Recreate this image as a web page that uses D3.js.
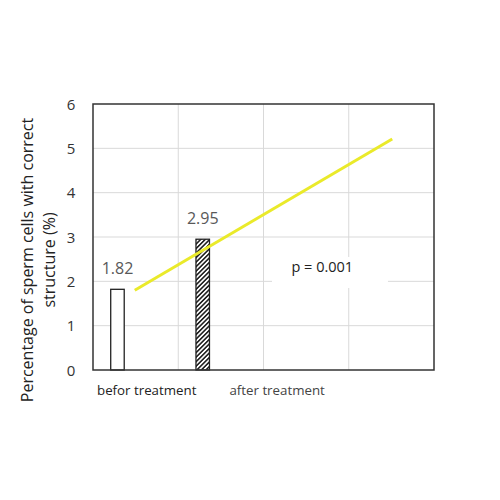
<!DOCTYPE html>
<html><head><meta charset="utf-8">
<script src="https://cdn.jsdelivr.net/npm/d3@7"></script>
<style>body{margin:0;background:#fff}svg{display:block}</style>
</head><body>
<script>
const categories = ["befor treatment", "after treatment"];
const values = [1.82, 2.95];
const barPos = [0.287, 1.287];
const labelPos = [0.63, 2.16];
const trendX = [0.49, 3.51];
const trendY = [1.80, 5.21];
const yTicks = [0, 1, 2, 3, 4, 5, 6];
const xGrid = [0, 1, 2, 3, 4];
const pText = "p = 0.001";

const W = 500, H = 500;
const svg = d3.select("body").append("svg").attr("width", W).attr("height", H);
const m = {l: 93, r: 434, t: 104, b: 370};
const x = d3.scaleLinear().domain([0, 4]).range([m.l, m.r]);
const y = d3.scaleLinear().domain([0, 6]).range([m.b, m.t]);
const font = "'Open Sans', sans-serif";

const defs = svg.append("defs");
const pat = defs.append("pattern").attr("id", "hatch").attr("patternUnits", "userSpaceOnUse")
  .attr("width", 3.2).attr("height", 3.2).attr("patternTransform", "rotate(45)");
pat.append("rect").attr("width", 3.2).attr("height", 3.2).attr("fill", "#fff");
pat.append("rect").attr("width", 1.6).attr("height", 3.2).attr("fill", "#222");

// grid
svg.append("g").selectAll("line").data(yTicks.slice(1, -1)).join("line")
  .attr("x1", m.l).attr("x2", m.r).attr("y1", d => y(d)).attr("y2", d => y(d))
  .attr("stroke", "#d9d9d9").attr("stroke-width", 1);
svg.append("g").selectAll("line").data(xGrid.slice(1, -1)).join("line")
  .attr("y1", m.t).attr("y2", m.b).attr("x1", d => x(d)).attr("x2", d => x(d))
  .attr("stroke", "#d9d9d9").attr("stroke-width", 1);

// bars
const bw = 13.5;
svg.append("g").selectAll("rect").data(values).join("rect")
  .attr("x", (d, i) => x(barPos[i]) - bw / 2).attr("width", bw)
  .attr("y", d => y(d)).attr("height", d => y(0) - y(d))
  .attr("fill", (d, i) => i === 0 ? "#fff" : "url(#hatch)")
  .attr("stroke", "#222").attr("stroke-width", 1.3);

// data labels
svg.append("g").selectAll("text").data(values).join("text")
  .attr("x", (d, i) => x(barPos[i])).attr("y", d => y(d) - 15)
  .attr("text-anchor", "middle").attr("font-family", font).attr("font-size", 16)
  .attr("fill", "#595959").text(d => d.toFixed(2));

// trend line
svg.append("line")
  .attr("x1", x(trendX[0])).attr("y1", y(trendY[0]))
  .attr("x2", x(trendX[1])).attr("y2", y(trendY[1]))
  .attr("stroke", "#eaea2a").attr("stroke-width", 3);

// p text box
const pg = svg.append("g");
pg.append("rect").attr("x", x(2.1)).attr("y", y(2.55)).attr("width", x(3.46) - x(2.1)).attr("height", y(1.85) - y(2.55)).attr("fill", "#fff");
pg.append("text").attr("x", x(2.69)).attr("y", y(2.2)).attr("text-anchor", "middle")
  .attr("font-family", font).attr("font-size", 14.5).attr("fill", "#222").text(pText);

// border
svg.append("rect").attr("x", m.l).attr("y", m.t).attr("width", m.r - m.l).attr("height", m.b - m.t)
  .attr("fill", "none").attr("stroke", "#333").attr("stroke-width", 1.5);

// y axis labels
const yAxis = d3.axisLeft(y).tickValues(yTicks).tickSize(0).tickPadding(0).tickFormat(d3.format("d"));
const ga = svg.append("g").attr("transform", `translate(${m.l - 22},0)`).call(yAxis);
ga.select(".domain").remove();
ga.selectAll("text").attr("font-family", font).attr("font-size", 15).attr("fill", "#333")
  .attr("text-anchor", "middle").attr("dy", "0.35em");

// x labels
svg.append("g").selectAll("text").data(categories).join("text")
  .attr("x", (d, i) => x(labelPos[i])).attr("y", 395)
  .attr("text-anchor", "middle").attr("font-family", font).attr("font-size", 13.3)
  .attr("fill", (d, i) => i === 0 ? "#222" : "#444").text(d => d);

// y title
const yt = svg.append("text").attr("transform", "translate(0,260) rotate(-90)")
  .attr("text-anchor", "middle").attr("font-family", font).attr("font-size", 16).attr("fill", "#222");
yt.append("tspan").attr("x", 0).attr("y", 33).text("Percentage of sperm cells with correct");
yt.append("tspan").attr("x", 0).attr("y", 55).text("structure (%)");
</script>
</body></html>
